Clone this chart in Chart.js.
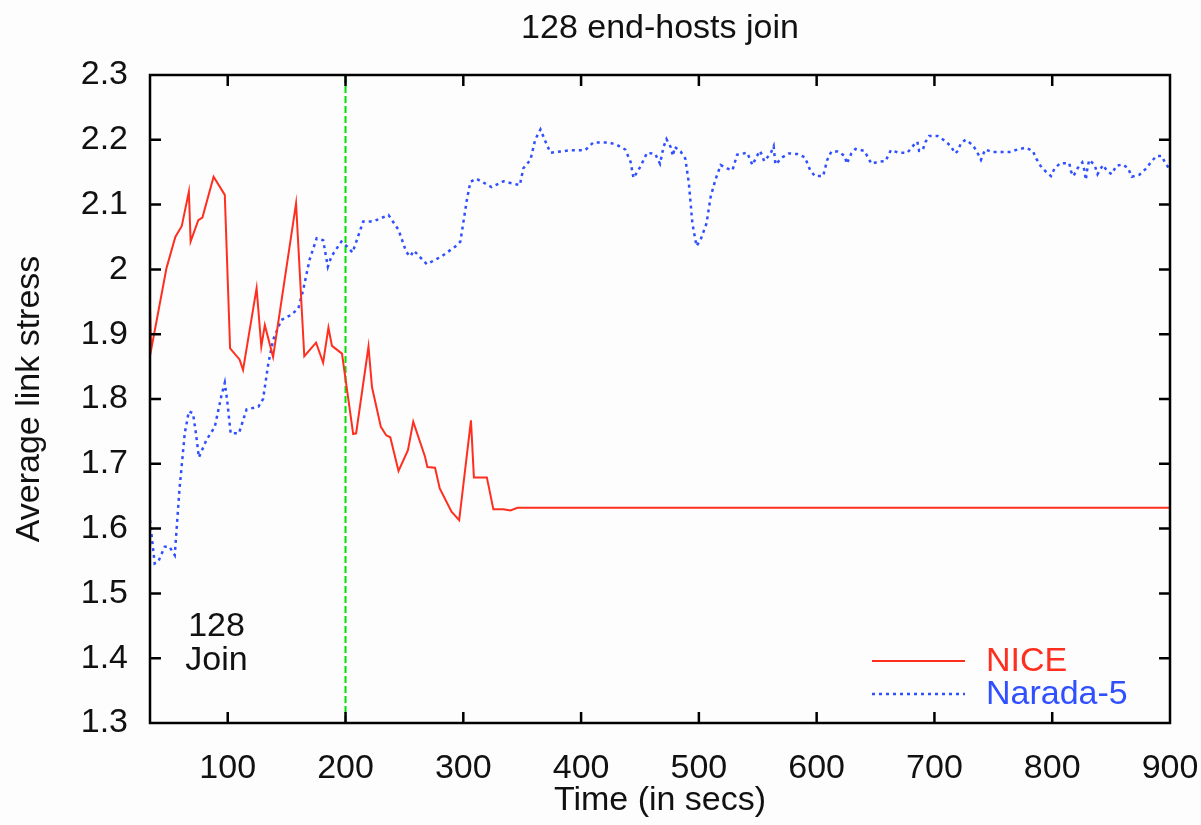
<!DOCTYPE html>
<html>
<head>
<meta charset="utf-8">
<script src="https://cdn.jsdelivr.net/npm/chart.js@4/dist/chart.umd.min.js"></script>
<style>
  html, body { margin: 0; padding: 0; background: #fdfdfd; overflow: hidden; }
  #wrap { width: 1201px; height: 825px; position: relative; }
</style>
</head>
<body>
<div id="wrap"><canvas id="c"></canvas></div>
<script>
const chartTitle = '128 end-hosts join';
const xAxisTitle = 'Time (in secs)';
const yAxisTitle = 'Average link stress';
const xMin = 34, xMax = 900;
const yMin = 1.3, yMax = 2.3;
const xTicks = [100, 200, 300, 400, 500, 600, 700, 800, 900];
const yTicks = [1.3, 1.4, 1.5, 1.6, 1.7, 1.8, 1.9, 2.0, 2.1, 2.2, 2.3];
const yTickLabels = ['1.3', '1.4', '1.5', '1.6', '1.7', '1.8', '1.9', '2', '2.1', '2.2', '2.3'];
const joinTime = 200;
const joinNote = ['128', 'Join'];
const joinNoteAt = { x: 90.5, y: 1.423 };

const niceLabel = 'NICE';
const niceX = [34, 35, 48, 55.5, 61, 67, 68.5, 75, 78.5, 88, 97.5, 102, 110, 113, 124.5, 128.5, 131.5, 138.5, 158, 165, 175, 181, 185.5, 188.5, 197, 206.5, 209, 219.5, 222.5, 230, 234.5, 238, 245, 253, 257.5, 267.5, 269.5, 276, 280, 290, 296.5, 306.5, 309, 320, 325.5, 334, 340, 346, 900];
const niceY = [1.940, 1.876, 2.002, 2.050, 2.067, 2.120, 2.043, 2.076, 2.080, 2.143, 2.115, 1.878, 1.861, 1.845, 1.971, 1.881, 1.914, 1.865, 2.102, 1.866, 1.887, 1.856, 1.910, 1.882, 1.870, 1.746, 1.747, 1.881, 1.818, 1.757, 1.744, 1.741, 1.689, 1.721, 1.765, 1.711, 1.695, 1.694, 1.662, 1.626, 1.613, 1.767, 1.679, 1.679, 1.630, 1.630, 1.628, 1.632, 1.632];

const naradaLabel = 'Narada-5';
const naradaX = [34, 38, 41, 46.5, 50.5, 55, 59, 63.5, 67, 70.5, 73, 75.5, 82, 89, 94.5, 97.5, 99.5, 102.5, 109.5, 116, 126, 130, 134.5, 138.5, 145.5, 154, 160, 164, 169.5, 175.5, 181, 185, 188, 196.5, 201, 206, 215, 223.5, 236.5, 245, 251.5, 255, 258, 269, 281.5, 293, 297.5, 303, 306, 311, 324, 334, 348, 351, 357, 361, 365.5, 371, 374, 382.5, 391, 403.5, 410.5, 423.5, 430.5, 437.5, 442, 444.5, 450.5, 456, 463, 467, 470, 472.5, 476, 478, 479.5, 484.5, 488.5, 491.5, 494.5, 498, 501.5, 506.5, 510, 514, 518.5, 523.5, 528.5, 532.5, 541, 545.5, 549, 552, 555.5, 561, 563.5, 565, 571, 576.5, 583.5, 590, 594.5, 598.5, 605.5, 609, 612.5, 618, 624, 625.5, 629.5, 633, 640.5, 646.5, 652, 658.5, 663, 670, 677, 682.5, 685.5, 687, 690, 692.5, 695.5, 702.5, 708.5, 714, 717.5, 720, 722.5, 726.5, 732.5, 736, 739.5, 743, 749.5, 756.5, 763.5, 770.5, 777.5, 783.5, 786.5, 790, 794.5, 799, 802, 807, 814.5, 816, 818, 821.5, 825.5, 827.5, 828.5, 830, 831.5, 836, 838.5, 843, 847, 850.5, 854.5, 860, 864.5, 867.5, 874, 880, 884, 888.5, 893, 896, 900];
const naradaY = [1.613, 1.546, 1.549, 1.572, 1.572, 1.559, 1.660, 1.747, 1.781, 1.778, 1.747, 1.710, 1.737, 1.757, 1.804, 1.825, 1.798, 1.747, 1.747, 1.784, 1.788, 1.800, 1.855, 1.891, 1.922, 1.930, 1.940, 1.968, 2.015, 2.048, 2.045, 2.004, 2.020, 2.043, 2.036, 2.026, 2.074, 2.074, 2.084, 2.061, 2.027, 2.020, 2.029, 2.008, 2.020, 2.035, 2.043, 2.107, 2.135, 2.140, 2.127, 2.136, 2.130, 2.156, 2.169, 2.200, 2.216, 2.192, 2.180, 2.182, 2.184, 2.184, 2.196, 2.196, 2.192, 2.185, 2.166, 2.141, 2.159, 2.180, 2.178, 2.163, 2.189, 2.201, 2.189, 2.175, 2.189, 2.182, 2.171, 2.133, 2.071, 2.036, 2.046, 2.071, 2.112, 2.138, 2.161, 2.156, 2.153, 2.177, 2.180, 2.161, 2.174, 2.183, 2.167, 2.179, 2.190, 2.162, 2.173, 2.179, 2.178, 2.173, 2.153, 2.144, 2.144, 2.169, 2.182, 2.182, 2.175, 2.163, 2.179, 2.186, 2.183, 2.163, 2.166, 2.167, 2.184, 2.180, 2.180, 2.192, 2.197, 2.183, 2.184, 2.197, 2.206, 2.206, 2.199, 2.190, 2.179, 2.183, 2.195, 2.200, 2.192, 2.182, 2.169, 2.185, 2.181, 2.181, 2.181, 2.185, 2.188, 2.183, 2.171, 2.160, 2.151, 2.144, 2.156, 2.164, 2.164, 2.151, 2.144, 2.156, 2.165, 2.152, 2.138, 2.158, 2.169, 2.161, 2.147, 2.161, 2.151, 2.147, 2.160, 2.162, 2.156, 2.143, 2.146, 2.156, 2.166, 2.175, 2.175, 2.164, 2.154];

const FONT = "'Liberation Sans', Arial, Helvetica, sans-serif";
const FS = 34;
const niceColor = '#ff2f1f';
const naradaColor = '#3050ff';
const toPts = (xs, ys) => xs.map((x, i) => ({ x: x, y: ys[i] }));

const framePlugin = {
  id: 'frame',
  beforeDatasetsDraw(chart) {
    const { ctx, chartArea: a, scales: { x } } = chart;
    const px = x.getPixelForValue(joinTime);
    ctx.save();
    ctx.strokeStyle = '#00e000';
    ctx.lineWidth = 2;
    ctx.setLineDash([7, 3]);
    ctx.beginPath();
    ctx.moveTo(px, a.bottom);
    ctx.lineTo(px, a.top);
    ctx.stroke();
    ctx.restore();
  },
  afterDraw(chart) {
    const { ctx, chartArea: a, scales: { x, y } } = chart;
    ctx.save();
    ctx.strokeStyle = '#000';
    ctx.lineWidth = 2.5;
    ctx.setLineDash([]);
    ctx.strokeRect(a.left, a.top, a.right - a.left, a.bottom - a.top);
    const tl = 11;
    ctx.beginPath();
    x.ticks.forEach(t => {
      const p = x.getPixelForValue(t.value);
      if (p <= a.left + 1 || p >= a.right - 1) return;
      ctx.moveTo(p, a.bottom); ctx.lineTo(p, a.bottom - tl);
      ctx.moveTo(p, a.top); ctx.lineTo(p, a.top + tl);
    });
    y.ticks.forEach(t => {
      const p = y.getPixelForValue(t.value);
      if (p <= a.top + 1 || p >= a.bottom - 1) return;
      ctx.moveTo(a.left, p); ctx.lineTo(a.left + tl, p);
      ctx.moveTo(a.right, p); ctx.lineTo(a.right - tl, p);
    });
    ctx.stroke();

    // title
    ctx.fillStyle = '#111';
    ctx.font = FS + 'px ' + FONT;
    ctx.textAlign = 'center';
    ctx.textBaseline = 'alphabetic';
    ctx.fillText(chartTitle, (a.left + a.right) / 2, 38);

    // annotation
    const ax = x.getPixelForValue(joinNoteAt.x);
    const ay = y.getPixelForValue(joinNoteAt.y);
    ctx.textBaseline = 'middle';
    ctx.fillText(joinNote[0], ax, ay - 17);
    ctx.fillText(joinNote[1], ax, ay + 17);

    // legend
    const lx1 = a.right - 298, lx2 = a.right - 205, tx = a.right - 184;
    const rows = [a.bottom - 62, a.bottom - 29];
    chart.data.datasets.forEach((ds, i) => {
      const ry = rows[i];
      ctx.strokeStyle = ds.borderColor;
      ctx.lineWidth = ds.borderWidth;
      ctx.setLineDash(ds.borderDash || []);
      ctx.beginPath();
      ctx.moveTo(lx1, ry); ctx.lineTo(lx2, ry);
      ctx.stroke();
      ctx.fillStyle = ds.borderColor;
      ctx.textAlign = 'left';
      ctx.textBaseline = 'middle';
      ctx.fillText(ds.label, tx, ry + 1);
    });
    ctx.restore();
  }
};

new Chart(document.getElementById('c'), {
  type: 'line',
  data: {
    datasets: [
      { label: niceLabel, data: toPts(niceX, niceY), borderColor: niceColor, borderWidth: 2, pointRadius: 0, tension: 0, fill: false },
      { label: naradaLabel, data: toPts(naradaX, naradaY), borderColor: naradaColor, borderWidth: 2.5, borderDash: [3, 4], pointRadius: 0, tension: 0, fill: false }
    ]
  },
  options: {
    responsive: true,
    maintainAspectRatio: false,
    animation: false,
    layout: { padding: { top: 75, right: 31, left: 0, bottom: 0 } },
    plugins: { legend: { display: false }, title: { display: false }, tooltip: { enabled: false } },
    scales: {
      x: {
        type: 'linear', min: xMin, max: xMax,
        afterBuildTicks: s => { s.ticks = xTicks.map(v => ({ value: v })); },
        afterFit: s => { s.height = 102; s.paddingLeft = 0; s.paddingRight = 0; },
        grid: { display: false, drawTicks: false },
        border: { display: false },
        ticks: { color: '#111', font: { family: FONT, size: FS }, padding: 25, maxRotation: 0, autoSkip: false },
        title: { display: true, text: xAxisTitle, color: '#111', font: { family: FONT, size: FS }, padding: { top: 0, bottom: 4 } }
      },
      y: {
        type: 'linear', min: yMin, max: yMax,
        afterBuildTicks: s => { s.ticks = yTicks.map(v => ({ value: v })); },
        afterFit: s => { s.width = 150; s.paddingTop = 0; s.paddingBottom = 0; },
        grid: { display: false, drawTicks: false },
        border: { display: false },
        ticks: {
          color: '#111', font: { family: FONT, size: FS }, padding: 22, autoSkip: false,
          callback: (v) => { const i = yTicks.findIndex(t => Math.abs(t - v) < 1e-6); return i >= 0 ? yTickLabels[i] : ''; }
        },
        title: { display: true, text: yAxisTitle, color: '#111', font: { family: FONT, size: FS }, padding: { top: 9, bottom: 0 } }
      }
    }
  },
  plugins: [framePlugin]
});
</script>
</body>
</html>
